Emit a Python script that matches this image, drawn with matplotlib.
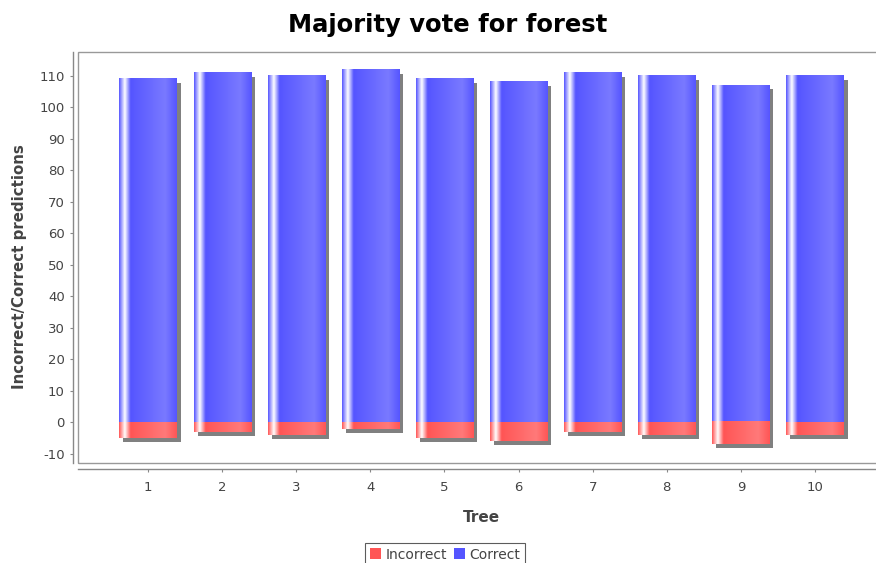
import numpy as np
import matplotlib
matplotlib.use("Agg")
import matplotlib.pyplot as plt
from matplotlib.patches import Rectangle
from matplotlib.transforms import ScaledTranslation

plt.rcParams["axes.unicode_minus"] = False

trees = [1, 2, 3, 4, 5, 6, 7, 8, 9, 10]
correct = [109, 111, 110, 112, 109, 108, 111, 110, 107, 110]
incorrect = [-5, -3, -4, -2, -5, -6, -3, -4, -7, -4]

RED = np.array([255, 85, 85]) / 255.0
BLUE = np.array([85, 85, 255]) / 255.0
SHADOW = "#808080"
TEXT = "#444444"
AXIS = "#888888"


def brighter(c):
    # java.awt.Color.brighter()
    return np.clip(c / 0.7, 0, 1)


def bar_gradient(c0, n=300):
    # base -> white -> base -> brighter -> base, split at 10/20/80 %
    c1 = brighter(c0)
    white = np.ones(3)
    t = np.linspace(0, 1, n)
    out = np.zeros((n, 3))
    for i, x in enumerate(t):
        if x < 0.10:
            f = x / 0.10
            out[i] = c0 + (white - c0) * f
        elif x < 0.20:
            f = (x - 0.10) / 0.10
            out[i] = white + (c0 - white) * f
        elif x < 0.80:
            f = (x - 0.20) / 0.60
            out[i] = c0 + (c1 - c0) * f
        else:
            f = (x - 0.80) / 0.20
            out[i] = c1 + (c0 - c1) * f
    return out[np.newaxis, :, :]


fig = plt.figure(figsize=(8.76, 5.63), dpi=100)
ax = fig.add_axes([0.089, 0.1776, 0.9213, 0.730])

width = 0.77
shadow_tr = ax.transData + ScaledTranslation(4 / 100, -4 / 100, fig.dpi_scale_trans)

# shadows first, then the gradient bars on top
for x, c, ic in zip(trees, correct, incorrect):
    ax.add_patch(Rectangle((x - width / 2, 0), width, c, facecolor=SHADOW,
                           edgecolor="none", transform=shadow_tr, zorder=1))
    ax.add_patch(Rectangle((x - width / 2, ic), width, -ic, facecolor=SHADOW,
                           edgecolor="none", transform=shadow_tr, zorder=1))

grad_blue = bar_gradient(BLUE)
grad_red = bar_gradient(RED)
for x, c, ic in zip(trees, correct, incorrect):
    ax.imshow(grad_blue, extent=(x - width / 2, x + width / 2, 0, c),
              aspect="auto", interpolation="bilinear", zorder=2)
    ax.imshow(grad_red, extent=(x - width / 2, x + width / 2, ic, 0),
              aspect="auto", interpolation="bilinear", zorder=2)

ax.set_xlim(0.055, 10.945)
ax.set_ylim(-12.9, 117.6)
ax.set_xticks(trees)
ax.set_yticks(np.arange(-10, 111, 10))

# plot frame plus detached axis lines
for s in ["top", "right"]:
    ax.spines[s].set_visible(False)
ax.spines["left"].set_position(("outward", 3.6))
ax.spines["bottom"].set_position(("outward", 4.3))
for s in ["left", "bottom"]:
    ax.spines[s].set_color(AXIS)
    ax.spines[s].set_linewidth(1.0)
ax.add_patch(Rectangle((0, 0), 1, 1, transform=ax.transAxes, fill=False,
                       edgecolor="#999999", linewidth=1.0, zorder=5, clip_on=False))

ax.tick_params(axis="both", colors=AXIS, labelcolor=TEXT, labelsize=9.5,
               length=2.5, width=0.8)
ax.tick_params(axis="x", pad=6)

fig.suptitle("Majority vote for forest", x=0.511, y=0.956, va="center",
             fontsize=17.5, fontweight="bold", color="black")
ax.set_xlabel("Tree", fontsize=11, fontweight="bold", color=TEXT, labelpad=12)
ax.set_ylabel("Incorrect/Correct predictions", fontsize=10.8, fontweight="bold",
              color=TEXT)
ax.yaxis.set_label_coords(-0.063, 0.477)

handles = [Rectangle((0, 0), 1, 1, facecolor=RED, edgecolor="none"),
           Rectangle((0, 0), 1, 1, facecolor=BLUE, edgecolor="none")]
leg = fig.legend(handles, ["Incorrect", "Correct"], loc="lower center",
                 bbox_to_anchor=(0.508, -0.006), ncol=2, frameon=True,
                 fancybox=False, fontsize=10, handlelength=0.8, handleheight=0.8,
                 handletextpad=0.3, columnspacing=0.5, borderpad=0.35,
                 borderaxespad=0.0, labelcolor=TEXT)
leg.get_frame().set_edgecolor("#333333")
leg.get_frame().set_linewidth(0.8)

fig.savefig("out.png", dpi=100)
